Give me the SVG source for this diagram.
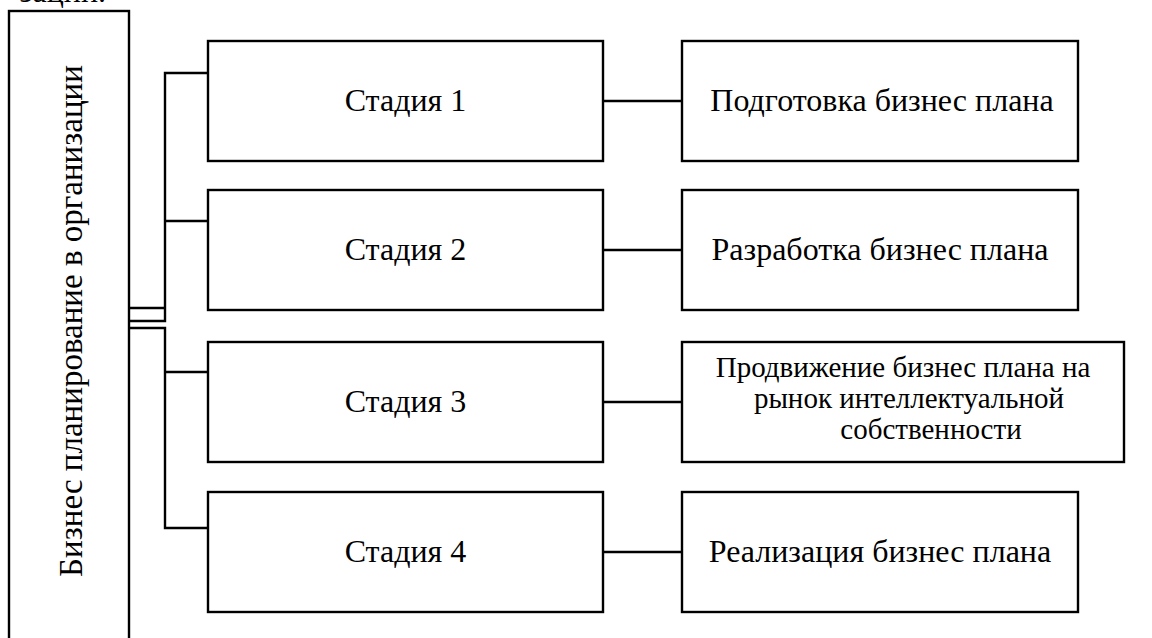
<svg xmlns="http://www.w3.org/2000/svg" width="1152" height="638" viewBox="0 0 1152 638">
  <style>
    .box { fill: #ffffff; stroke: #000000; stroke-width: 2.4; }
    .line { fill: none; stroke: #000000; stroke-width: 2.4; }
    text { font-family: 'Liberation Serif', 'DejaVu Serif', serif; font-size: 32px; fill: #000000; text-anchor: middle; }
    .small { font-size: 29px; }
  </style>
  <rect width="1152" height="638" fill="#ffffff"/>

  <!-- tail of the preceding paragraph line -->
  <text x="106" y="2" style="text-anchor:end">зации.</text>

  <!-- connectors -->
  <g id="connectors">
    <path class="line" d="M208 73 H165 V308 H129 M165 308 V321 H129"/>
    <path class="line" d="M129 328 H165 V528 H208"/>
    <path class="line" d="M165 221 H208 M165 372 H208"/>
    <path class="line" d="M603 101 H682 M603 250 H682 M603 402 H682 M603 552 H682"/>
  </g>

  <g id="root">
    <rect class="box" x="9" y="11" width="120" height="640"/>
    <text transform="translate(82 321) rotate(-90)" style="font-size:33px">Бизнес планирование в организации</text>
  </g>

  <g id="stage1">
    <rect class="box" x="208" y="41" width="395" height="120"/>
    <text x="405.5" y="111">Стадия 1</text>
  </g>
  <g id="stage2">
    <rect class="box" x="208" y="190" width="395" height="120"/>
    <text x="405.5" y="260">Стадия 2</text>
  </g>
  <g id="stage3">
    <rect class="box" x="208" y="342" width="395" height="120"/>
    <text x="405.5" y="412">Стадия 3</text>
  </g>
  <g id="stage4">
    <rect class="box" x="208" y="492" width="395" height="120"/>
    <text x="405.5" y="562">Стадия 4</text>
  </g>

  <g id="step1">
    <rect class="box" x="682" y="41" width="396" height="120"/>
    <text x="882" y="111">Подготовка бизнес плана</text>
  </g>
  <g id="step2">
    <rect class="box" x="682" y="190" width="396" height="120"/>
    <text x="880" y="260">Разработка бизнес плана</text>
  </g>
  <g id="step3">
    <rect class="box" x="682" y="342" width="442" height="120"/>
    <text class="small" x="903" y="377">Продвижение бизнес плана на</text>
    <text class="small" x="909" y="408">рынок интеллектуальной</text>
    <text class="small" x="931" y="439">собственности</text>
  </g>
  <g id="step4">
    <rect class="box" x="682" y="492" width="396" height="120"/>
    <text x="880" y="562">Реализация бизнес плана</text>
  </g>
</svg>
